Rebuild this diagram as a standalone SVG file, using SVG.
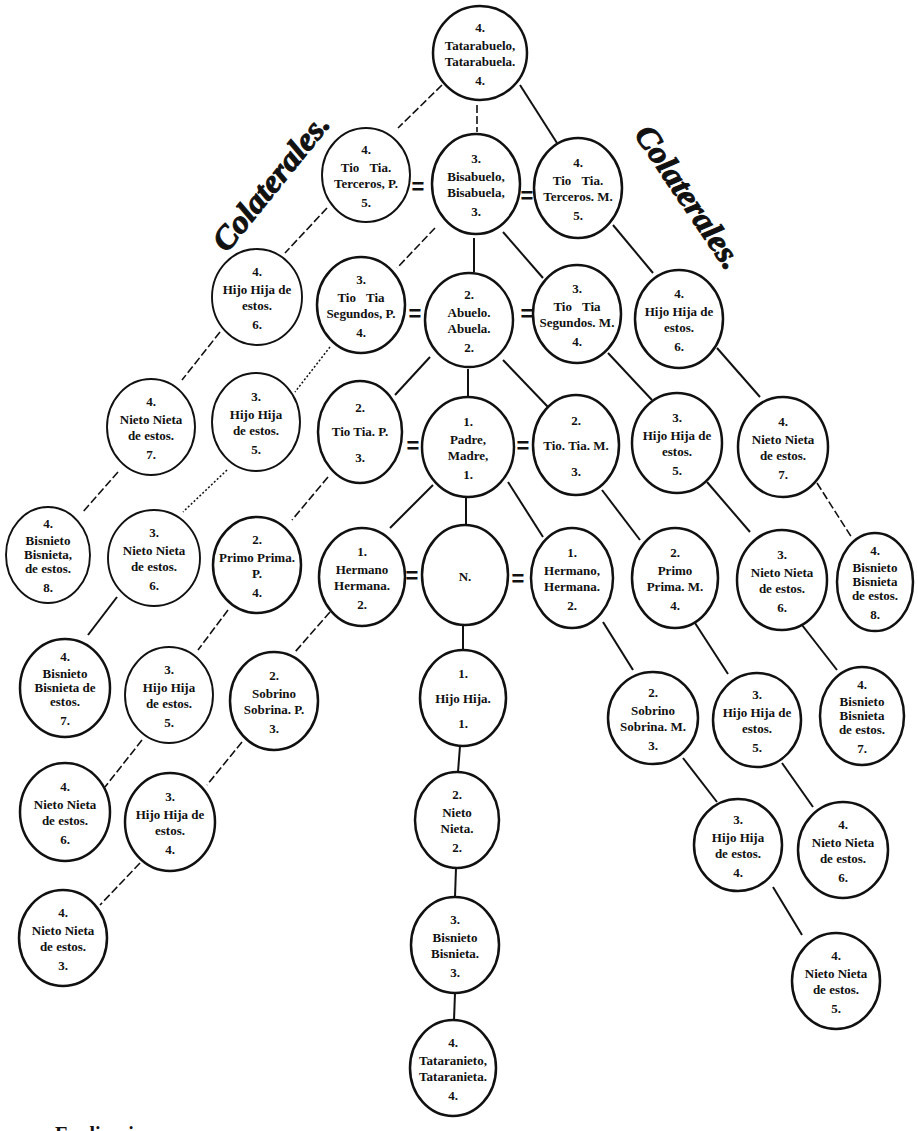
<svg xmlns="http://www.w3.org/2000/svg" width="918" height="1131" viewBox="0 0 918 1131">
<style>
.n ellipse{fill:#fff;stroke:#111;stroke-width:2.5}
.n.f ellipse{stroke-width:1.9}
.t{font-family:"Liberation Serif",serif;font-weight:bold;font-size:13px;text-anchor:middle;fill:#111}
.w{word-spacing:7px}
.c line{stroke:#111;stroke-width:2}
.c line.d{stroke-dasharray:8 3;stroke-width:1.6}
.c line.o{stroke-dasharray:2 2;stroke-width:1.5}
.eq{font-family:"Liberation Sans",sans-serif;font-weight:bold;font-size:22px;text-anchor:middle;fill:#111}
.lab{font-family:"Liberation Serif",serif;font-weight:bold;font-style:italic;font-size:32px;text-anchor:middle;fill:#111;stroke:#111;stroke-width:1}
</style>
<rect width="918" height="1131" fill="#fff"/>
<g id="connectors" class="c">
<line x1="442" y1="85" x2="398" y2="128" class="d"/>
<line x1="477" y1="105" x2="477" y2="132" class="d"/>
<line x1="520" y1="85" x2="557" y2="143"/>
<line x1="327" y1="208" x2="285" y2="253" class="d"/>
<line x1="435" y1="228" x2="397" y2="268" class="d"/>
<line x1="474" y1="238" x2="474" y2="272"/>
<line x1="503" y1="232" x2="543" y2="278"/>
<line x1="613" y1="225" x2="653" y2="273"/>
<line x1="220" y1="332" x2="182" y2="380" class="d"/>
<line x1="330" y1="347" x2="295" y2="392" class="o"/>
<line x1="430" y1="357" x2="395" y2="395"/>
<line x1="468" y1="369" x2="468" y2="396"/>
<line x1="503" y1="360" x2="548" y2="407"/>
<line x1="608" y1="353" x2="652" y2="400"/>
<line x1="717" y1="348" x2="760" y2="397"/>
<line x1="118" y1="472" x2="82" y2="513" class="d"/>
<line x1="227" y1="470" x2="183" y2="512" class="o"/>
<line x1="328" y1="477" x2="292" y2="520" class="d"/>
<line x1="433" y1="485" x2="390" y2="528"/>
<line x1="466" y1="498" x2="466" y2="524"/>
<line x1="508" y1="482" x2="543" y2="537"/>
<line x1="602" y1="490" x2="640" y2="540"/>
<line x1="707" y1="482" x2="750" y2="532"/>
<line x1="817" y1="483" x2="852" y2="538" class="d"/>
<line x1="117" y1="597" x2="88" y2="635"/>
<line x1="228" y1="610" x2="198" y2="650" class="d"/>
<line x1="330" y1="612" x2="295" y2="652" class="d"/>
<line x1="463" y1="626" x2="463" y2="650"/>
<line x1="603" y1="622" x2="633" y2="670"/>
<line x1="695" y1="623" x2="728" y2="674"/>
<line x1="802" y1="625" x2="837" y2="670"/>
<line x1="142" y1="740" x2="105" y2="787" class="d"/>
<line x1="242" y1="742" x2="207" y2="785" class="d"/>
<line x1="460" y1="746" x2="458" y2="772"/>
<line x1="683" y1="758" x2="717" y2="802"/>
<line x1="782" y1="763" x2="813" y2="807"/>
<line x1="140" y1="863" x2="100" y2="905" class="d"/>
<line x1="456" y1="868" x2="455" y2="897"/>
<line x1="773" y1="887" x2="802" y2="935"/>
<line x1="455" y1="993" x2="454" y2="1020"/>
<text class="eq" x="418" y="194">=</text>
<text class="eq" x="527" y="203">=</text>
<text class="eq" x="415" y="321">=</text>
<text class="eq" x="527" y="321">=</text>
<text class="eq" x="413" y="453">=</text>
<text class="eq" x="523" y="453">=</text>
<text class="eq" x="412" y="583">=</text>
<text class="eq" x="518" y="586">=</text>
</g>
<g id="label-left"><text class="lab" transform="translate(279,189) rotate(-51)" textLength="166" lengthAdjust="spacingAndGlyphs">Colaterales.</text></g>
<g id="label-right"><text class="lab" transform="translate(680,203) rotate(56)" textLength="166" lengthAdjust="spacingAndGlyphs">Colaterales.</text></g>

<g id="n-tatarabuelo" class="n" transform="translate(480,53)"><ellipse rx="47" ry="47"/><text class="t" y="-21">4.</text><text class="t" y="-3">Tatarabuelo,</text><text class="t" y="13">Tatarabuela.</text><text class="t" y="32">4.</text></g>
<g id="n-terceros-p" class="n f" transform="translate(366,175)"><ellipse rx="44" ry="47"/><text class="t" y="-21">4.</text><text class="t w" y="-3">Tio Tia.</text><text class="t" y="13">Terceros, P.</text><text class="t" y="32">5.</text></g>
<g id="n-bisabuelo" class="n" transform="translate(476,184)"><ellipse rx="44" ry="50"/><text class="t" y="-21">3.</text><text class="t" y="-3">Bisabuelo,</text><text class="t" y="13">Bisabuela,</text><text class="t" y="32">3.</text></g>
<g id="n-terceros-m" class="n" transform="translate(578,188)"><ellipse rx="44" ry="50"/><text class="t" y="-21">4.</text><text class="t w" y="-3">Tio Tia.</text><text class="t" y="13">Terceros. M.</text><text class="t" y="32">5.</text></g>
<g id="n-hijo6-l" class="n f" transform="translate(257,297)"><ellipse rx="45" ry="48"/><text class="t" y="-21">4.</text><text class="t" y="-3">Hijo Hija de</text><text class="t" y="13">estos.</text><text class="t" y="32">6.</text></g>
<g id="n-segundos-p" class="n" transform="translate(361,305)"><ellipse rx="44" ry="48"/><text class="t" y="-21">3.</text><text class="t w" y="-3">Tio Tia</text><text class="t" y="13">Segundos, P.</text><text class="t" y="32">4.</text></g>
<g id="n-abuelo" class="n" transform="translate(469,320)"><ellipse rx="44" ry="47"/><text class="t" y="-21">2.</text><text class="t" y="-3">Abuelo.</text><text class="t" y="13">Abuela.</text><text class="t" y="32">2.</text></g>
<g id="n-segundos-m" class="n" transform="translate(577,314)"><ellipse rx="44" ry="49"/><text class="t" y="-21">3.</text><text class="t w" y="-3">Tio Tia</text><text class="t" y="13">Segundos. M.</text><text class="t" y="32">4.</text></g>
<g id="n-hijo6-r" class="n" transform="translate(679,319)"><ellipse rx="44" ry="49"/><text class="t" y="-21">4.</text><text class="t" y="-3">Hijo Hija de</text><text class="t" y="13">estos.</text><text class="t" y="32">6.</text></g>
<g id="n-nieto7-l" class="n f" transform="translate(151,427)"><ellipse rx="44" ry="48"/><text class="t" y="-21">4.</text><text class="t" y="-3">Nieto Nieta</text><text class="t" y="13">de estos.</text><text class="t" y="32">7.</text></g>
<g id="n-hijo5-l" class="n f" transform="translate(256,422)"><ellipse rx="44" ry="49"/><text class="t" y="-21">3.</text><text class="t" y="-3">Hijo Hija</text><text class="t" y="13">de estos.</text><text class="t" y="32">5.</text></g>
<g id="n-tio-p" class="n" transform="translate(360,432)"><ellipse rx="42" ry="51"/><text class="t" y="-20">2.</text><text class="t" y="4">Tio Tia. P.</text><text class="t" y="30">3.</text></g>
<g id="n-padre" class="n" transform="translate(468,447)"><ellipse rx="46" ry="50"/><text class="t" y="-21">1.</text><text class="t" y="-3">Padre,</text><text class="t" y="13">Madre,</text><text class="t" y="32">1.</text></g>
<g id="n-tio-m" class="n" transform="translate(576,445)"><ellipse rx="43" ry="50"/><text class="t" y="-20">2.</text><text class="t" y="5">Tio. Tia. M.</text><text class="t" y="31">3.</text></g>
<g id="n-hijo5-r" class="n" transform="translate(677,443)"><ellipse rx="45" ry="50"/><text class="t" y="-21">3.</text><text class="t" y="-3">Hijo Hija de</text><text class="t" y="13">estos.</text><text class="t" y="32">5.</text></g>
<g id="n-nieto7-r" class="n" transform="translate(783,447)"><ellipse rx="45" ry="50"/><text class="t" y="-21">4.</text><text class="t" y="-3">Nieto Nieta</text><text class="t" y="13">de estos.</text><text class="t" y="32">7.</text></g>
<g id="n-bisnieto8-l" class="n f" transform="translate(48,555)"><ellipse rx="42" ry="48"/><text class="t" y="-27">4.</text><text class="t" y="-10">Bisnieto</text><text class="t" y="4">Bisnieta,</text><text class="t" y="18">de estos.</text><text class="t" y="37">8.</text></g>
<g id="n-nieto6-l" class="n f" transform="translate(154,558)"><ellipse rx="46" ry="48"/><text class="t" y="-21">3.</text><text class="t" y="-3">Nieto Nieta</text><text class="t" y="13">de estos.</text><text class="t" y="32">6.</text></g>
<g id="n-primo-p" class="n" transform="translate(257,565)"><ellipse rx="44" ry="48"/><text class="t" y="-21">2.</text><text class="t" y="-3">Primo Prima.</text><text class="t" y="13">P.</text><text class="t" y="32">4.</text></g>
<g id="n-hermano-p" class="n" transform="translate(362,577)"><ellipse rx="43" ry="49"/><text class="t" y="-21">1.</text><text class="t" y="-3">Hermano</text><text class="t" y="13">Hermana.</text><text class="t" y="32">2.</text></g>
<g id="n-ego" class="n" transform="translate(465,575)"><ellipse rx="43" ry="50"/><text class="t" y="6">N.</text></g>
<g id="n-hermano-m" class="n" transform="translate(572,578)"><ellipse rx="41" ry="50"/><text class="t" y="-21">1.</text><text class="t" y="-3">Hermano,</text><text class="t" y="13">Hermana.</text><text class="t" y="32">2.</text></g>
<g id="n-primo-m" class="n" transform="translate(675,578)"><ellipse rx="43" ry="50"/><text class="t" y="-21">2.</text><text class="t" y="-3">Primo</text><text class="t" y="13">Prima. M.</text><text class="t" y="32">4.</text></g>
<g id="n-nieto6-r" class="n" transform="translate(782,580)"><ellipse rx="45" ry="50"/><text class="t" y="-21">3.</text><text class="t" y="-3">Nieto Nieta</text><text class="t" y="13">de estos.</text><text class="t" y="32">6.</text></g>
<g id="n-bisnieto8-r" class="n" transform="translate(875,582)"><ellipse rx="38" ry="49"/><text class="t" y="-27">4.</text><text class="t" y="-10">Bisnieto</text><text class="t" y="4">Bisnieta</text><text class="t" y="18">de estos.</text><text class="t" y="37">8.</text></g>
<g id="n-bisnieto7-l" class="n" transform="translate(65,688)"><ellipse rx="45" ry="49"/><text class="t" y="-27">4.</text><text class="t" y="-10">Bisnieto</text><text class="t" y="4">Bisnieta de</text><text class="t" y="18">estos.</text><text class="t" y="37">7.</text></g>
<g id="n-hijo5-l2" class="n f" transform="translate(169,695)"><ellipse rx="44" ry="48"/><text class="t" y="-21">3.</text><text class="t" y="-3">Hijo Hija</text><text class="t" y="13">de estos.</text><text class="t" y="32">5.</text></g>
<g id="n-sobrino-p" class="n" transform="translate(274,701)"><ellipse rx="44" ry="49"/><text class="t" y="-21">2.</text><text class="t" y="-3">Sobrino</text><text class="t" y="13">Sobrina. P.</text><text class="t" y="32">3.</text></g>
<g id="n-hijo1" class="n" transform="translate(463,698)"><ellipse rx="43" ry="48"/><text class="t" y="-20">1.</text><text class="t" y="5">Hijo Hija.</text><text class="t" y="30">1.</text></g>
<g id="n-sobrino-m" class="n" transform="translate(653,718)"><ellipse rx="45" ry="46"/><text class="t" y="-21">2.</text><text class="t" y="-3">Sobrino</text><text class="t" y="13">Sobrina. M.</text><text class="t" y="32">3.</text></g>
<g id="n-hijo5-r2" class="n" transform="translate(757,720)"><ellipse rx="44" ry="47"/><text class="t" y="-21">3.</text><text class="t" y="-3">Hijo Hija de</text><text class="t" y="13">estos.</text><text class="t" y="32">5.</text></g>
<g id="n-bisnieto7-r" class="n" transform="translate(862,716)"><ellipse rx="42" ry="49"/><text class="t" y="-27">4.</text><text class="t" y="-10">Bisnieto</text><text class="t" y="4">Bisnieta</text><text class="t" y="18">de estos.</text><text class="t" y="37">7.</text></g>
<g id="n-nieto6-l2" class="n" transform="translate(65,812)"><ellipse rx="45" ry="49"/><text class="t" y="-21">4.</text><text class="t" y="-3">Nieto Nieta</text><text class="t" y="13">de estos.</text><text class="t" y="32">6.</text></g>
<g id="n-hijo4-l" class="n" transform="translate(170,822)"><ellipse rx="45" ry="49"/><text class="t" y="-21">3.</text><text class="t" y="-3">Hijo Hija de</text><text class="t" y="13">estos.</text><text class="t" y="32">4.</text></g>
<g id="n-nieto2" class="n" transform="translate(457,820)"><ellipse rx="42" ry="48"/><text class="t" y="-21">2.</text><text class="t" y="-3">Nieto</text><text class="t" y="13">Nieta.</text><text class="t" y="32">2.</text></g>
<g id="n-hijo4-r" class="n" transform="translate(738,845)"><ellipse rx="44" ry="46"/><text class="t" y="-21">3.</text><text class="t" y="-3">Hijo Hija</text><text class="t" y="13">de estos.</text><text class="t" y="32">4.</text></g>
<g id="n-nieto6-r2" class="n" transform="translate(843,850)"><ellipse rx="45" ry="48"/><text class="t" y="-21">4.</text><text class="t" y="-3">Nieto Nieta</text><text class="t" y="13">de estos.</text><text class="t" y="32">6.</text></g>
<g id="n-nieto3-l" class="n" transform="translate(63,938)"><ellipse rx="44" ry="48"/><text class="t" y="-21">4.</text><text class="t" y="-3">Nieto Nieta</text><text class="t" y="13">de estos.</text><text class="t" y="32">3.</text></g>
<g id="n-bisnieto3" class="n" transform="translate(455,945)"><ellipse rx="44" ry="48"/><text class="t" y="-21">3.</text><text class="t" y="-3">Bisnieto</text><text class="t" y="13">Bisnieta.</text><text class="t" y="32">3.</text></g>
<g id="n-nieto5-r" class="n" transform="translate(836,981)"><ellipse rx="44" ry="48"/><text class="t" y="-21">4.</text><text class="t" y="-3">Nieto Nieta</text><text class="t" y="13">de estos.</text><text class="t" y="32">5.</text></g>
<g id="n-tataranieto" class="n" transform="translate(453,1068)"><ellipse rx="43" ry="48"/><text class="t" y="-21">4.</text><text class="t" y="-3">Tataranieto,</text><text class="t" y="13">Tataranieta.</text><text class="t" y="32">4.</text></g>
<g id="footer"><text x="55" y="1141" style="font-family:'Liberation Serif',serif;font-weight:bold;font-size:20px;fill:#111">Explicacion</text></g>
</svg>
